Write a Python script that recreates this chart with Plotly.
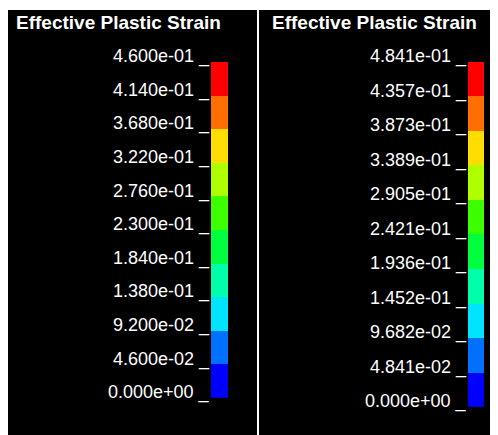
import plotly.graph_objects as go

# page is shifted by the 8px body margin; all positions below are page pixels
OFF = 8
PW, PH = 498, 435
W, H = PW - OFF, PH - OFF

title_text = "Effective Plastic Strain"

left_bounds = [0.0, 0.046, 0.092, 0.138, 0.184, 0.230, 0.276, 0.322, 0.368, 0.414, 0.460]
left_labels = ["0.000e+00", "4.600e-02", "9.200e-02", "1.380e-01", "1.840e-01", "2.300e-01",
               "2.760e-01", "3.220e-01", "3.680e-01", "4.140e-01", "4.600e-01"]

right_bounds = [0.0, 0.04841, 0.09682, 0.1452, 0.1936, 0.2421, 0.2905, 0.3389, 0.3873, 0.4357, 0.4841]
right_labels = ["0.000e+00", "4.841e-02", "9.682e-02", "1.452e-01", "1.936e-01", "2.421e-01",
                "2.905e-01", "3.389e-01", "3.873e-01", "4.357e-01", "4.841e-01"]

# fringe colours, bottom to top
fringe_colors = ["#0000FF", "#0070FF", "#00E4FF", "#00FFAA", "#00FF3C",
                 "#3CFF00", "#B0FF00", "#FFDD00", "#FF6E00", "#FF0000"]

FONT = "Arial, Liberation Sans, sans-serif"


def px(x):
    return (x - OFF) / W


def py(y):
    return 1 - (y - OFF) / H


fig = go.Figure()

panels = [
    dict(bounds=left_bounds, labels=left_labels, xa="x", ya="y",
         xdom=[px(211), px(228)], ydom=[py(397.7), py(61.7)],
         bg=[7, 257], title_x=14),
    dict(bounds=right_bounds, labels=right_labels, xa="x2", ya="y2",
         xdom=[px(467.7), px(484)], ydom=[py(406.7), py(61.7)],
         bg=[259, 498], title_x=269.5),
]

shapes = []
annotations = []
for i, p in enumerate(panels):
    b = p["bounds"]
    fig.add_trace(go.Bar(
        x=[0] * (len(b) - 1),
        y=[b[k + 1] - b[k] for k in range(len(b) - 1)],
        base=b[:-1],
        marker=dict(color=fringe_colors, line=dict(width=0)),
        width=1,
        xaxis=p["xa"], yaxis=p["ya"],
        hoverinfo="skip",
        showlegend=False,
    ))
    sfx = "" if i == 0 else "2"
    fig.update_layout(**{
        "xaxis" + sfx: dict(domain=p["xdom"], range=[-0.5, 0.5], visible=False,
                            fixedrange=True, anchor=p["ya"]),
        "yaxis" + sfx: dict(domain=p["ydom"], range=[b[0], b[-1]], visible=False,
                            fixedrange=True, anchor=p["xa"]),
    })
    shapes.append(dict(type="rect", xref="paper", yref="paper",
                       x0=max(px(p["bg"][0]), 0), x1=px(p["bg"][1]), y0=0, y1=py(10),
                       fillcolor="black", line=dict(width=0), layer="below"))
    annotations.append(dict(text="<b>" + title_text + "</b>", xref="paper", yref="paper",
                            x=px(p["title_x"]), y=py(22.5), xanchor="left", yanchor="middle",
                            showarrow=False, font=dict(family=FONT, size=19, color="white")))
    for v, lab in zip(b, p["labels"]):
        annotations.append(dict(text=lab + " _", xref=p["xa"], yref=p["ya"],
                                x=-0.5, y=v, xanchor="right", yanchor="middle", yshift=5,
                                showarrow=False, borderpad=0,
                                font=dict(family=FONT, size=18, color="white")))

fig.update_layout(
    width=W, height=H,
    margin=dict(l=0, r=0, t=0, b=0),
    paper_bgcolor="white", plot_bgcolor="rgba(0,0,0,0)",
    barmode="overlay", bargap=0,
    shapes=shapes, annotations=annotations,
    showlegend=False, hovermode=False,
)

fig.write_html("out.html", config={"displayModeBar": False})
